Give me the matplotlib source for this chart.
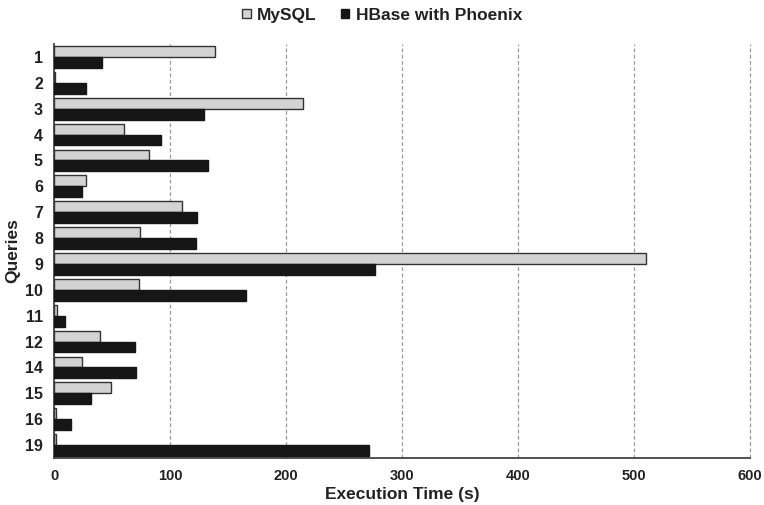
import matplotlib
matplotlib.use("Agg")
import matplotlib.pyplot as plt
import numpy as np

plt.rcParams['font.family'] = ['Liberation Sans', 'DejaVu Sans']
plt.rcParams['font.weight'] = 'bold'

queries = ['1', '2', '3', '4', '5', '6', '7', '8', '9', '10', '11', '12', '14', '15', '16', '19']
mysql = [139, 0.5, 215, 60, 82, 28, 110.5, 74, 510, 73.5, 2.3, 39.5, 24, 49.5, 2, 1.4]
hbase = [41.5, 27.5, 129, 92.5, 133, 24, 123, 122.5, 277, 165.5, 9.8, 69.5, 70.5, 32, 15, 271.5]

fig = plt.figure(figsize=(7.64, 5.05), dpi=100)
ax = fig.add_axes([0.0707, 0.0931, 0.911, 0.8198])

y = np.arange(len(queries))
h = 0.42
ax.barh(y - h / 2, mysql, height=h, color='#d3d3d3', edgecolor='#333333', linewidth=1.0, label='MySQL', zorder=3)
ax.barh(y + h / 2, hbase, height=h, color='#161616', edgecolor='#161616', linewidth=1.0, label='HBase with Phoenix', zorder=3)

ax.set_ylim(len(queries) - 0.5, -0.5)
ax.set_xlim(0, 600)
ax.set_xticks(np.arange(0, 601, 100))
ax.set_yticks(y)
ax.set_yticklabels(queries)
ax.tick_params(axis='both', length=0, colors='#222222')
ax.tick_params(axis='x', pad=8, labelsize=10.5)
ax.tick_params(axis='y', pad=8, labelsize=11.5)

ax.grid(axis='x', linestyle=(0, (3, 2)), color='#999999', linewidth=0.9, zorder=0)
for gl in ax.get_xgridlines():
    gl.set_clip_on(False)
for s in ['top', 'right']:
    ax.spines[s].set_visible(False)
for s in ['left', 'bottom']:
    ax.spines[s].set_color('#444444')
    ax.spines[s].set_linewidth(1.3)

ax.set_xlabel('Execution Time (s)', fontsize=12.5, fontweight='bold', labelpad=3, color='#222222')
ax.set_ylabel('Queries', fontsize=12.5, fontweight='bold', labelpad=3, color='#222222')

fig.legend(loc='center', bbox_to_anchor=(0.5, 0.97), ncol=2, frameon=False,
           fontsize=12.5, handlelength=0.5, handleheight=0.5, handletextpad=0.35,
           columnspacing=1.4, labelcolor='#222222')

fig.savefig('out.png', dpi=100)
